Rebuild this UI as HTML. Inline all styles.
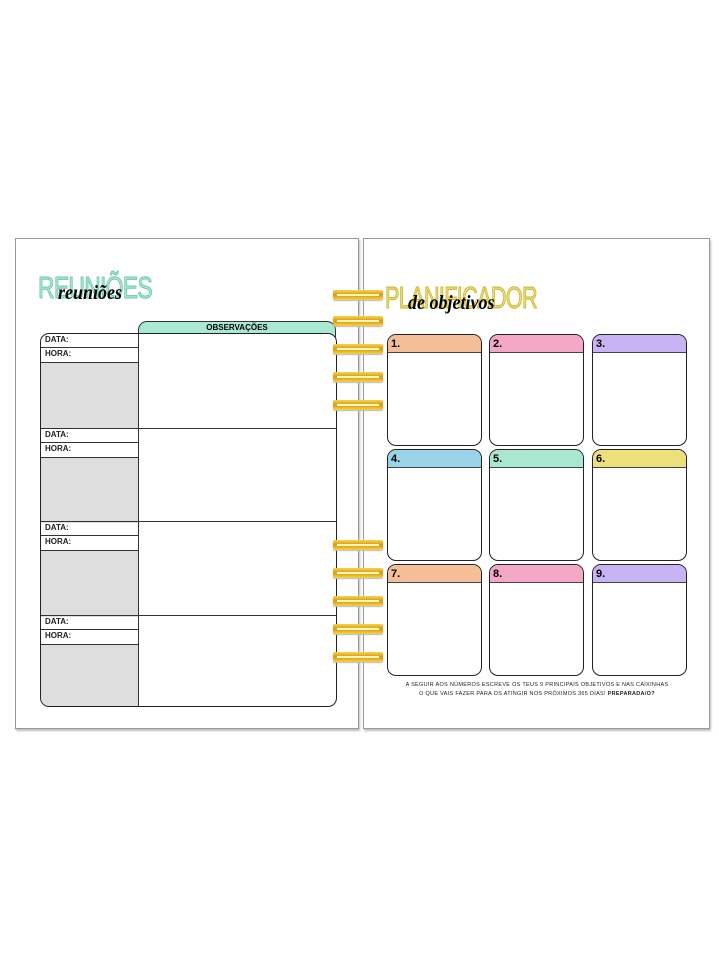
<!DOCTYPE html><html><head><style>
body{margin:0;width:719px;height:959px;background:#fff;position:relative;font-family:"Liberation Sans",sans-serif;overflow:hidden}
.a{position:absolute;box-sizing:border-box}
.page{border:1px solid #999;box-shadow:1px 2px 2px #bbb;background:#fff}
.lab{font-size:8px;font-weight:bold;color:#222;padding-left:4px;line-height:12px}
.box{border:1.5px solid #222;border-radius:9px;overflow:hidden;background:#fff}
.box .h{height:17px;border-bottom:1.5px solid #444;font-size:11px;font-weight:bold;padding-left:3px;line-height:18px}
.sp{height:10px;width:50px;background:linear-gradient(#f7d34a,#d99a0c 50%,#f7d34a);border-radius:2px;box-shadow:0 1px 1px #bbb}
.sp:after{content:"";position:absolute;left:4px;right:4px;top:4px;height:2px;background:#fff6c0}
</style></head><body>
<div class="a page" style="left:15px;top:238px;width:344px;height:491px"></div>
<div class="a page" style="left:363px;top:238px;width:347px;height:491px"></div>
<div class="a" style="left:38px;top:270px;font-size:31px;color:#a6e6cf;-webkit-text-stroke:1px #6fc9a8;letter-spacing:-1px;transform:scaleX(0.74);transform-origin:left">REUNIÕES</div>
<div class="a" style="left:58px;top:282px;font-size:20px;font-weight:bold;font-style:italic;font-family:'Liberation Serif',serif;transform:scaleX(0.9);transform-origin:left">reuniões</div>
<div class="a" style="left:138px;top:321px;width:198px;height:16px;background:#a9e9d3;border:1.5px solid #333;border-radius:9px 9px 0 0;font-size:8px;font-weight:bold;text-align:center;line-height:12px">OBSERVAÇÕES</div>
<div class="a" style="left:40px;top:333px;width:297px;height:374px;border:1.5px solid #222;border-radius:9px;background:#fff;overflow:hidden">
<div class="a" style="left:97px;top:0;width:1px;height:100%;background:#333"></div>
<div class="a" style="left:0;top:0;width:97px;height:100%">
<div class="a" style="top:0;width:97px;height:94px"><div class="lab" style="border-bottom:1px solid #333;height:13px">DATA:</div><div class="lab" style="border-bottom:1px solid #333;height:14px">HORA:</div><div style="background:#dedede;height:66px"></div></div>
<div class="a" style="top:94px;width:97px;height:93px;border-top:1px solid #333"><div class="lab" style="border-bottom:1px solid #333;height:13px">DATA:</div><div class="lab" style="border-bottom:1px solid #333;height:14px">HORA:</div><div style="background:#dedede;height:65px"></div></div>
<div class="a" style="top:187px;width:97px;height:94px;border-top:1px solid #333"><div class="lab" style="border-bottom:1px solid #333;height:13px">DATA:</div><div class="lab" style="border-bottom:1px solid #333;height:14px">HORA:</div><div style="background:#dedede;height:66px"></div></div>
<div class="a" style="top:281px;width:97px;height:93px;border-top:1px solid #333"><div class="lab" style="border-bottom:1px solid #333;height:13px">DATA:</div><div class="lab" style="border-bottom:1px solid #333;height:14px">HORA:</div><div style="background:#dedede;height:70px"></div></div>
</div>
<div class="a" style="left:97px;top:94px;width:200px;height:1px;background:#333"></div>
<div class="a" style="left:97px;top:187px;width:200px;height:1px;background:#333"></div>
<div class="a" style="left:97px;top:281px;width:200px;height:1px;background:#333"></div>
</div>
<div class="a" style="left:385px;top:280px;font-size:31px;color:#eedd6a;-webkit-text-stroke:1px #c9b438;letter-spacing:-1px;transform:scaleX(0.7);transform-origin:left">PLANIFICADOR</div>
<div class="a" style="left:408px;top:292px;font-size:20px;font-weight:bold;font-style:italic;font-family:'Liberation Serif',serif;transform:scaleX(0.9);transform-origin:left">de objetivos</div>
<div class="a sp" style="left:333px;top:290px"></div><div class="a sp" style="left:333px;top:316px"></div><div class="a sp" style="left:333px;top:344px"></div><div class="a sp" style="left:333px;top:372px"></div><div class="a sp" style="left:333px;top:400px"></div>
<div class="a sp" style="left:333px;top:540px"></div><div class="a sp" style="left:333px;top:568px"></div><div class="a sp" style="left:333px;top:596px"></div><div class="a sp" style="left:333px;top:624px"></div><div class="a sp" style="left:333px;top:652px"></div>
<div class="a box" style="left:387px;top:334px;width:95px;height:112px"><div class="h" style="background:#f4bf96">1.</div></div>
<div class="a box" style="left:489px;top:334px;width:95px;height:112px"><div class="h" style="background:#f4a8c6">2.</div></div>
<div class="a box" style="left:592px;top:334px;width:95px;height:112px"><div class="h" style="background:#c8b4f4">3.</div></div>
<div class="a box" style="left:387px;top:449px;width:95px;height:112px"><div class="h" style="background:#9ad4ea">4.</div></div>
<div class="a box" style="left:489px;top:449px;width:95px;height:112px"><div class="h" style="background:#a8e8d0">5.</div></div>
<div class="a box" style="left:592px;top:449px;width:95px;height:112px"><div class="h" style="background:#ede07a">6.</div></div>
<div class="a box" style="left:387px;top:564px;width:95px;height:112px"><div class="h" style="background:#f4bf96">7.</div></div>
<div class="a box" style="left:489px;top:564px;width:95px;height:112px"><div class="h" style="background:#f4a8c6">8.</div></div>
<div class="a box" style="left:592px;top:564px;width:95px;height:112px"><div class="h" style="background:#c8b4f4">9.</div></div>
<div class="a" style="left:380px;top:681px;width:314px;text-align:center;font-size:5.5px;line-height:9px;color:#222;letter-spacing:.3px">A SEGUIR AOS NÚMEROS ESCREVE OS TEUS 9 PRINCIPAIS OBJETIVOS E NAS CAIXINHAS<br>O QUE VAIS FAZER PARA OS ATINGIR NOS PRÓXIMOS 365 DIAS! <b>PREPARADA/O?</b></div>
</body></html>
